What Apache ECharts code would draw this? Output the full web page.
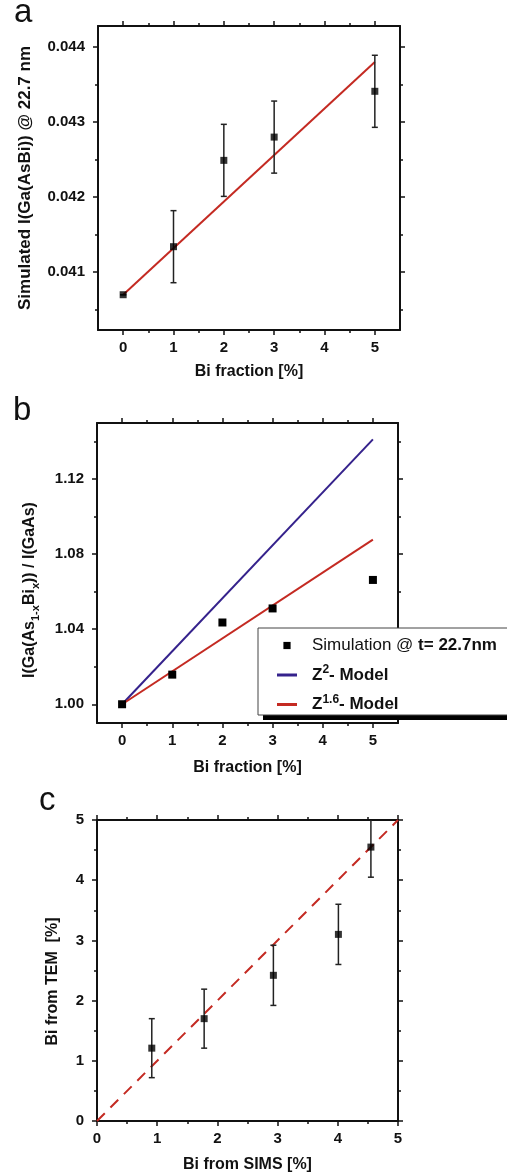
<!DOCTYPE html>
<html><head><meta charset="utf-8">
<script src="https://cdn.jsdelivr.net/npm/echarts@6/dist/echarts.min.js"></script>
<style>html,body{margin:0;padding:0;background:#fff}#c{width:507px;height:1174px}</style>
</head><body><div id="c"></div>
<script>
// ---------- Panel a ----------
const xA = [0, 1, 2, 3, 5];
const yA = [0.04070, 0.04134, 0.04249, 0.04280, 0.04341];
const errA = [0, 0.00048, 0.00048, 0.00048, 0.00048];
const fitXA = [0, 5];
const fitYA = [0.04070, 0.04380];
// ---------- Panel b ----------
const xB = [0, 1, 2, 3, 5];
const simB = [1.000, 1.0158, 1.0436, 1.0511, 1.0663];
const modelXB = [0, 5];
const z2B = [1.000, 1.1413];
const z16B = [1.000, 1.0878];
// ---------- Panel c ----------
const simsC = [0.91, 1.78, 2.93, 4.01, 4.55];
const temC = [1.21, 1.70, 2.42, 3.10, 4.55];
const errC = [0.49, 0.49, 0.50, 0.50, 0.50];
const diagXC = [0, 5];
const diagYC = [0, 5];
// ---------- ticks ----------
const xTicksAB = [0, 1, 2, 3, 4, 5];
const xMinorAB = [0.5, 1.5, 2.5, 3.5, 4.5];
const yTicksA = [0.041, 0.042, 0.043, 0.044];
const yMinorA = [0.0405, 0.0415, 0.0425, 0.0435];
const yTicksB = [1.00, 1.04, 1.08, 1.12];
const yMinorB = [1.02, 1.06, 1.10, 1.14];
const ticksC = [0, 1, 2, 3, 4, 5];
const minorC = [0.5, 1.5, 2.5, 3.5, 4.5];

const simName = 'Simulation @ t= 22.7nm';
const z2Name = 'Z2- Model';
const z16Name = 'Z1.6- Model';

const FONT = "'Liberation Sans', Arial, Helvetica, sans-serif";
const AX = '#111';
const RED = '#c42a22';
const BLUE = '#35228c';

function zip(a, b) { return a.map((v, i) => [v, b[i]]); }

function axisSet(dim, grid, min, max, major, minor, fmt, name, nameGap, nameExtra) {
  const pos = dim === 'x' ? ['bottom', 'top'] : ['left', 'right'];
  const mk = (position, withLine, ticks, len, labels) => ({
    type: 'value', gridIndex: grid, min: min, max: max, position: position,
    splitLine: { show: false }, axisPointer: { show: false }, silent: true,
    axisLine: { show: withLine, onZero: false, lineStyle: { color: AX, width: 2 } },
    axisTick: { show: true, inside: false, length: len, customValues: ticks, lineStyle: { color: AX, width: 1.5 } },
    axisLabel: labels ? {
      show: true, customValues: ticks, formatter: fmt, margin: dim === 'x' ? 10 : 13,
      fontFamily: FONT, fontWeight: 'bold', fontSize: 15, color: '#111'
    } : { show: false }
  });
  const main = mk(pos[0], true, major, 5, true);
  main.name = name;
  main.nameLocation = 'middle';
  main.nameGap = nameGap;
  main.nameTextStyle = Object.assign({ fontFamily: FONT, fontWeight: 'bold', fontSize: 16, color: '#111' }, nameExtra || {});
  return [main, mk(pos[1], true, major, 5, false), mk(pos[0], false, minor, 3, false), mk(pos[1], false, minor, 3, false)];
}

function errBar(params, api) {
  const x = api.value(0), lo = api.value(1), hi = api.value(2);
  const t = api.coord([x, hi]), b = api.coord([x, lo]);
  const w = 3;
  const st = { stroke: '#222', lineWidth: 1.5 };
  return {
    type: 'group', children: [
      { type: 'line', shape: { x1: t[0], y1: t[1], x2: b[0], y2: b[1] }, style: st },
      { type: 'line', shape: { x1: t[0] - w, y1: t[1], x2: t[0] + w, y2: t[1] }, style: st },
      { type: 'line', shape: { x1: b[0] - w, y1: b[1], x2: b[0] + w, y2: b[1] }, style: st }
    ]
  };
}

const fmt3 = v => v.toFixed(3);
const fmt2 = v => v.toFixed(2);
const fmt0 = v => String(Math.round(v));

const xAxes = [].concat(
  axisSet('x', 0, -0.5, 5.5, xTicksAB, xMinorAB, fmt0, 'Bi fraction [%]', 34),
  axisSet('x', 1, -0.5, 5.5, xTicksAB, xMinorAB, fmt0, 'Bi fraction [%]', 37),
  axisSet('x', 2, 0, 5, ticksC, minorC, fmt0, 'Bi from SIMS [%]', 36)
);
const yAxes = [].concat(
  axisSet('y', 0, 0.04023, 0.04428, yTicksA, yMinorA, fmt3, 'Simulated I(Ga(AsBi)) @ 22.7 nm', 64, { fontSize: 17 }),
  axisSet('y', 1, 0.990, 1.150, yTicksB, yMinorB, fmt2,
    '{t|I(Ga(As}{s|1-x}{t|Bi}{s|x}{t|)) / I(GaAs)}', 56,
    { padding: [0, 34, 0, 0], rich: {
      t: { fontFamily: FONT, fontWeight: 'bold', fontSize: 16, color: '#111', lineHeight: 22 },
      s: { fontFamily: FONT, fontWeight: 'bold', fontSize: 11, color: '#111', lineHeight: 11, verticalAlign: 'bottom' }
    } }),
  axisSet('y', 2, 0, 5, ticksC, minorC, fmt0, 'Bi from TEM  [%]', 36, { padding: [0, 22, 0, 0] })
);

const option = {
  animation: false,
  backgroundColor: '#fff',
  grid: [
    { left: 98, top: 26, width: 302, height: 304 },
    { left: 97, top: 423, width: 301, height: 300 },
    { left: 97, top: 820, width: 301, height: 301 }
  ],
  xAxis: xAxes,
  yAxis: yAxes,
  legend: {
    show: true, selectedMode: false, orient: 'vertical',
    left: 258, top: 628, z: 6,
    itemWidth: 20, itemHeight: 9, itemGap: 10,
    padding: [9, 40, 2, 19],
    backgroundColor: '#fff', borderColor: '#444', borderWidth: 1,
    data: [
      { name: simName },
      { name: z2Name, icon: 'path://M0,0H20V3H0Z', itemStyle: { borderWidth: 0 } },
      { name: z16Name, icon: 'path://M0,0H20V3H0Z', itemStyle: { borderWidth: 0 } }
    ],
    formatter: function (n) {
      if (n === simName) return '{r|Simulation @ }{b|t= 22.7nm}';
      if (n === z2Name) return '{b|Z}{sup|2}{b|- Model}';
      return '{b|Z}{sup|1.6}{b|- Model}';
    },
    textStyle: {
      padding: [0, 0, 0, 10],
      rich: {
        r: { fontFamily: FONT, fontSize: 17, color: '#111', lineHeight: 22 },
        b: { fontFamily: FONT, fontSize: 17, fontWeight: 'bold', color: '#111', lineHeight: 22 },
        sup: { fontFamily: FONT, fontSize: 12, fontWeight: 'bold', color: '#111', lineHeight: 12, verticalAlign: 'top' }
      }
    }
  },
  graphic: [
    { type: 'text', left: 14, top: -4, style: { text: 'a', fontFamily: FONT, fontSize: 33, fill: '#111' } },
    { type: 'text', left: 13, top: 394, style: { text: 'b', fontFamily: FONT, fontSize: 33, fill: '#111' } },
    { type: 'text', left: 39, top: 784, style: { text: 'c', fontFamily: FONT, fontSize: 33, fill: '#111' } },
    { type: 'rect', z: 5, shape: { x: 263, y: 715, width: 260, height: 5 }, style: { fill: '#000' } }
  ],
  series: [
    // panel a
    { type: 'line', name: 'fit a', xAxisIndex: 0, yAxisIndex: 0, data: zip(fitXA, fitYA),
      symbol: 'none', lineStyle: { color: RED, width: 2 }, z: 3 },
    { type: 'custom', name: 'err a', xAxisIndex: 0, yAxisIndex: 0,
      data: xA.map((x, i) => [x, yA[i] - errA[i], yA[i] + errA[i]]),
      encode: { x: 0, y: [1, 2] }, renderItem: errBar, z: 4 },
    { type: 'scatter', name: 'sim a', xAxisIndex: 0, yAxisIndex: 0, data: zip(xA, yA),
      symbol: 'rect', symbolSize: 7, itemStyle: { color: '#000' }, z: 5 },
    // panel b
    { type: 'line', name: z2Name, xAxisIndex: 4, yAxisIndex: 4, data: zip(modelXB, z2B),
      symbol: 'none', color: BLUE, lineStyle: { color: BLUE, width: 2 }, z: 3 },
    { type: 'line', name: z16Name, xAxisIndex: 4, yAxisIndex: 4, data: zip(modelXB, z16B),
      symbol: 'none', color: RED, lineStyle: { color: RED, width: 2 }, z: 3 },
    { type: 'line', name: simName, xAxisIndex: 4, yAxisIndex: 4, data: zip(xB, simB),
      symbol: 'rect', symbolSize: 8, showSymbol: true, color: '#000',
      itemStyle: { color: '#000', borderWidth: 0 }, lineStyle: { width: 0, opacity: 0 }, z: 5 },
    // panel c
    { type: 'line', name: 'y = x', xAxisIndex: 8, yAxisIndex: 8, data: zip(diagXC, diagYC),
      symbol: 'none', lineStyle: { color: RED, width: 2, type: [11, 8] }, z: 3 },
    { type: 'custom', name: 'err c', xAxisIndex: 8, yAxisIndex: 8, clip: true,
      data: simsC.map((x, i) => [x, temC[i] - errC[i], temC[i] + errC[i]]),
      encode: { x: 0, y: [1, 2] }, renderItem: errBar, z: 4 },
    { type: 'scatter', name: 'TEM vs SIMS', xAxisIndex: 8, yAxisIndex: 8, data: zip(simsC, temC),
      symbol: 'rect', symbolSize: 7, itemStyle: { color: '#000' }, z: 5 }
  ]
};

const chart = echarts.init(document.getElementById('c'), null, { renderer: 'canvas' });
chart.setOption(option);
</script>
</body></html>
